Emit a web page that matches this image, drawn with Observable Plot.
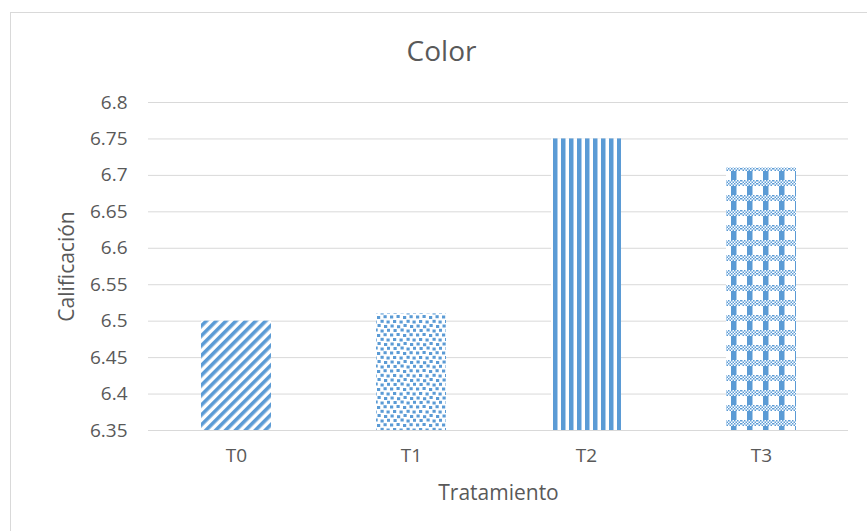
<!DOCTYPE html>
<html><head><meta charset="utf-8">
<script src="https://cdn.jsdelivr.net/npm/d3@7"></script>
<script src="https://cdn.jsdelivr.net/npm/@observablehq/plot@0.6"></script>
<style>
body{margin:0;background:#fff;font-family:"Open Sans",sans-serif;}
#wrap{position:relative;width:867px;height:531px;overflow:hidden;}
#frame{position:absolute;left:10px;top:12px;width:870px;height:540px;border:1px solid #d9d9d9;box-sizing:border-box;}
#title{position:absolute;left:0;width:883px;top:31px;text-align:center;font-size:28px;color:#595959;line-height:normal;}
svg{position:absolute;left:0;top:0;}
</style></head>
<body><div id="wrap"><div id="frame"></div><div id="title">Color</div></div>
<script>
const categories = ["T0", "T1", "T2", "T3"];
const values = [6.5, 6.51, 6.75, 6.71];
const yTicks = [6.35, 6.4, 6.45, 6.5, 6.55, 6.6, 6.65, 6.7, 6.75, 6.8];
const patterns = ["pDiag", "pConfetti", "pVert", "pPlaid"];
const data = categories.map((c, i) => ({cat: c, val: values[i], pat: patterns[i]}));

const chart = Plot.plot({
  width: 867, height: 531,
  marginLeft: 148, marginRight: 19, marginTop: 102, marginBottom: 101,
  style: {fontFamily: "'Open Sans', sans-serif", fontSize: "19px", color: "#595959", background: "transparent"},
  x: {domain: categories, paddingInner: 0.6, paddingOuter: 0.3, label: null, tickSize: 0, tickPadding: 18},
  y: {domain: [6.35, 6.8], ticks: yTicks, tickFormat: d => String(+d.toFixed(2)), label: null, tickSize: 0, tickPadding: 21},
  marks: [
    Plot.gridY(yTicks, {stroke: "#d9d9d9", strokeOpacity: 1, strokeWidth: 1}),
    Plot.barY(data, {x: "cat", y1: 6.35, y2: "val"}),
    Plot.text(["Tratamiento"], {frameAnchor: "bottom", dy: 69, text: d => d, fill: "#595959", fontSize: 21}),
    Plot.text(["Calificación"], {frameAnchor: "left", textAnchor: "middle", dx: -81, rotate: -90, text: d => d, fill: "#595959", fontSize: 21})
  ]
});
chart.querySelectorAll("g[aria-label='bar'] rect").forEach((r, i) => r.setAttribute("fill", `url(#${data[i].pat})`));

const ns = "http://www.w3.org/2000/svg";
const defs = document.createElementNS(ns, "defs");
const B = "#5b9bd5";
defs.innerHTML = `
<pattern id="pDiag" patternUnits="userSpaceOnUse" width="7" height="7" patternTransform="rotate(45)">
  <rect x="0" y="0" width="7" height="7" fill="#fff"/>
  <rect x="0" y="0" width="3.6" height="7" fill="${B}"/>
</pattern>
<pattern id="pConfetti" patternUnits="userSpaceOnUse" width="26" height="18">
  <rect width="26" height="18" fill="#fff"/>
  <rect x="0.5" y="0.5" width="3.2" height="3" fill="${B}"/>
  <rect x="7" y="1.2" width="3.2" height="3" fill="${B}"/>
  <rect x="13.5" y="0" width="3.2" height="3" fill="${B}"/>
  <rect x="20" y="1" width="3.2" height="3" fill="${B}"/>
  <rect x="3.5" y="5" width="3.2" height="3" fill="${B}"/>
  <rect x="10.5" y="4.5" width="3.2" height="3" fill="${B}"/>
  <rect x="16.5" y="5.5" width="3.2" height="3" fill="${B}"/>
  <rect x="23" y="4.8" width="3" height="3" fill="${B}"/>
  <rect x="0" y="9.5" width="3.2" height="3" fill="${B}"/>
  <rect x="6.5" y="9" width="3.2" height="3" fill="${B}"/>
  <rect x="13" y="10" width="3.2" height="3" fill="${B}"/>
  <rect x="19.5" y="9.2" width="3.2" height="3" fill="${B}"/>
  <rect x="3" y="14" width="3.2" height="3" fill="${B}"/>
  <rect x="9.5" y="14.5" width="3.2" height="3" fill="${B}"/>
  <rect x="16.5" y="13.8" width="3.2" height="3" fill="${B}"/>
  <rect x="22.5" y="14.5" width="3.2" height="3" fill="${B}"/>
</pattern>
<pattern id="pVert" patternUnits="userSpaceOnUse" width="8" height="8" x="552">
  <rect width="8" height="8" fill="#fff"/>
  <rect x="1" y="0" width="4.5" height="8" fill="${B}"/>
</pattern>
<pattern id="pChk" patternUnits="userSpaceOnUse" width="3" height="3">
  <rect width="3" height="3" fill="#fff"/>
  <rect x="0" y="0" width="1.5" height="1.5" fill="${B}"/>
  <rect x="1.5" y="1.5" width="1.5" height="1.5" fill="${B}"/>
</pattern>
<pattern id="pPlaid" patternUnits="userSpaceOnUse" width="16" height="15" x="725" y="0">
  <rect width="16" height="15" fill="#fff"/>
  <rect x="6" y="0" width="5.5" height="15" fill="${B}"/>
  <rect x="0" y="0" width="16" height="6" fill="url(#pChk)"/>
</pattern>`;
chart.insertBefore(defs, chart.firstChild);
document.getElementById("wrap").appendChild(chart);
</script></body></html>
